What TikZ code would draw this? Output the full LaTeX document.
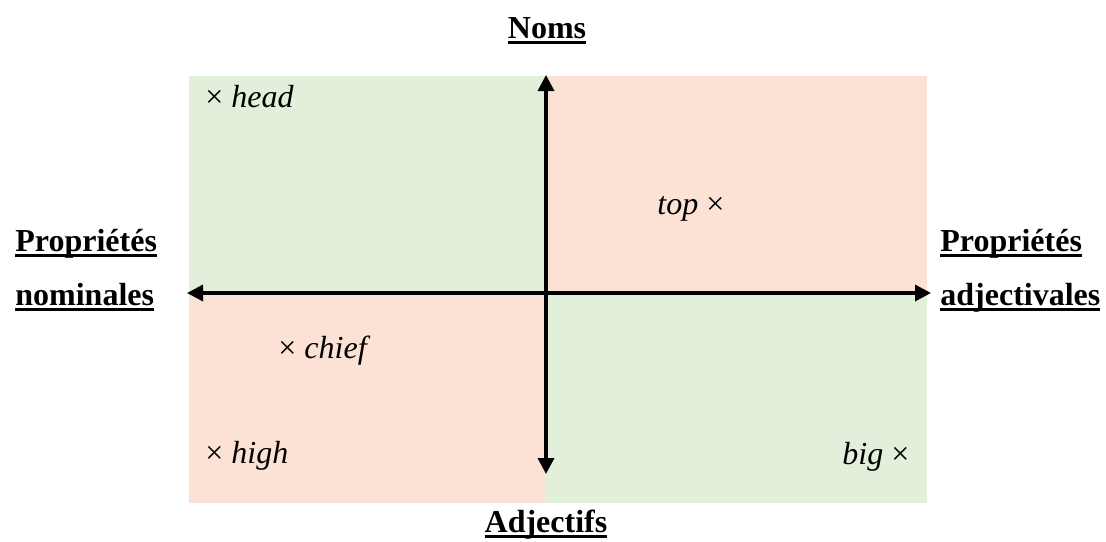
\documentclass[tikz,border=0pt]{standalone}
\usepackage{fontspec}
\setmainfont{Liberation Serif}
\usetikzlibrary{arrows.meta}
\definecolor{nomgreen}{HTML}{E2EFDA}
\definecolor{adjpink}{HTML}{FBE2D5}
\newcommand\ulbf[1]{\setbox0\hbox{\bfseries #1}\rlap{\vrule height -1.5pt depth 3pt width \wd0}\box0}
\tikzset{every node/.style={inner sep=0pt, font=\fontsize{16}{18}\selectfont}}
\tikzset{axis/.style={line width=1.7pt, {Triangle[length=8pt,width=8pt]}-{Triangle[length=8pt,width=8pt]}}}
\tikzset{title/.style={anchor=base}, word/.style={anchor=base west}}

\begin{document}
\begin{tikzpicture}[x=0.5pt,y=-0.5pt]
  \useasboundingbox (0,0) rectangle (1106,541);
  % quadrants
  \fill[nomgreen] (189,76) rectangle (545,293);
  \fill[adjpink]  (545,76) rectangle (927,293);
  \fill[adjpink]  (189,293) rectangle (545,503);
  \fill[nomgreen] (545,293) rectangle (927,503);
  % axes
  \coordinate (west)  at (187,293);
  \coordinate (east)  at (931,293);
  \coordinate (north) at (546,75);
  \coordinate (south) at (546,474);
  \draw[axis] (west) -- (east);
  \draw[axis] (north) -- (south);
  % axis titles
  \node[title] (noms) at (547,38) {\ulbf{Noms}};
  \node[title] (adj)  at (546,532) {\ulbf{Adjectifs}};
  \node[word] (propL) at (15,251) {\ulbf{Propriétés}};
  \node[word] (nomin) at (15,305) {\ulbf{nominales}};
  \node[word] (propR) at (940,251) {\ulbf{Propriétés}};
  \node[word] (adjec) at (940,305) {\ulbf{adjectivales}};
  % words
  \node[word] (head)  at (205,107) {× \textit{head}};
  \node[word] (top)   at (657,214) {\textit{top} ×};
  \node[word] (chief) at (278,358) {× \textit{chief}};
  \node[word] (high)  at (205,463) {× \textit{high}};
  \node[word] (big)   at (842,464) {\textit{big} ×};
\end{tikzpicture}
\end{document}
